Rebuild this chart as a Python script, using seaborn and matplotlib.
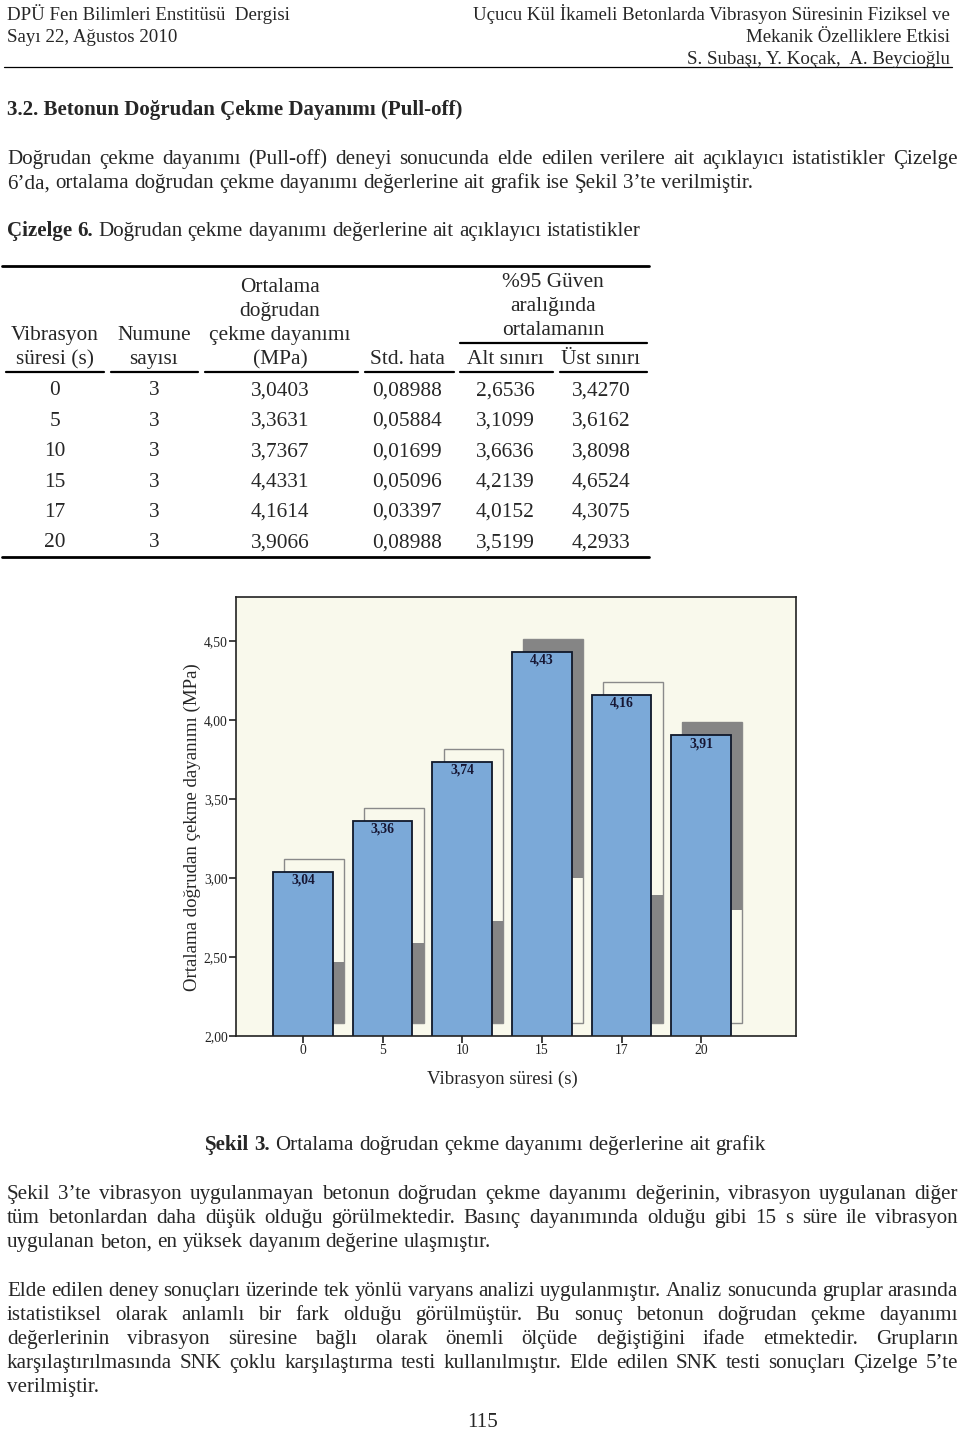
import numpy as np
import matplotlib
matplotlib.use("Agg")
import matplotlib.pyplot as plt
from matplotlib.lines import Line2D
import seaborn as sns

# table / chart data (Çizelge 6)
durations = ["0", "5", "10", "15", "17", "20"]
sample_n = [3, 3, 3, 3, 3, 3]
mean_strength = [3.0403, 3.3631, 3.7367, 4.4331, 4.1614, 3.9066]
std_err = [0.08988, 0.05884, 0.01699, 0.05096, 0.03397, 0.08988]
ci_lower = [2.6536, 3.1099, 3.6636, 4.2139, 4.0152, 3.5199]
ci_upper = [3.4270, 3.6162, 3.8098, 4.6524, 4.3075, 4.2933]

# grey band inside each 3D shadow
shade_lo = [2.08, 2.08, 2.08, 3.00, 2.08, 2.80]
shade_hi = [2.47, 2.59, 2.73, 4.51, 2.89, 3.99]

W, H = 960, 1436
BAR_BLUE = "#7BA9D8"
CREAM = "#F9F9EC"
SHADE = "#858585"

sns.set_style("ticks")
plt.rcParams["font.family"] = ["Liberation Serif", "DejaVu Serif"]

fig = plt.figure(figsize=(W / 100, H / 100), dpi=100)
renderer = fig.canvas.get_renderer()

BODY = 15.1
TABLE = 15.4
HEAD = 13.6


def fx(x):
    return x / W


def fy(y):
    return 1 - y / H


def hline(x0, x1, y, lw=1.0):
    fig.add_artist(Line2D([fx(x0), fx(x1)], [fy(y), fy(y)],
                          transform=fig.transFigure, color="black", lw=lw))


def put(x, y, s, size=BODY, ha="left", weight="normal"):
    # y is the visual middle of the line; shift down to the baseline
    base = y + 0.30 * size * 100 / 72
    return fig.text(fx(x), fy(base), s, fontsize=size, ha=ha, va="baseline",
                    fontweight=weight)


def line(words, y, x0=7, x1=958, justify=True, n_bold=0, size=BODY):
    """place words one by one, spread between x0 and x1 when justified"""
    texts = [put(0, y, w, size=size, weight="bold" if i < n_bold else "normal")
             for i, w in enumerate(words)]
    widths = [t.get_window_extent(renderer).width for t in texts]
    probe = put(0, y, "a a", size=size)
    probe2 = put(0, y, "aa", size=size)
    space = probe.get_window_extent(renderer).width - probe2.get_window_extent(renderer).width
    probe.remove()
    probe2.remove()
    gap = (x1 - x0 - sum(widths)) / (len(words) - 1) if justify else space
    x = x0
    for t, w in zip(texts, widths):
        t.set_x(fx(x))
        x += w + gap


# page header
put(7, 14, "DPÜ Fen Bilimleri Enstitüsü  Dergisi", size=HEAD)
put(7, 36, "Sayı 22, Ağustos 2010", size=HEAD)
put(950, 14, "Uçucu Kül İkameli Betonlarda Vibrasyon Süresinin Fiziksel ve", size=HEAD, ha="right")
put(950, 36, "Mekanik Özelliklere Etkisi", size=HEAD, ha="right")
put(950, 58, "S. Subaşı, Y. Koçak,  A. Beycioğlu", size=HEAD, ha="right")
hline(4, 952, 67, lw=0.9)

put(7, 109, "3.2. Betonun Doğrudan Çekme Dayanımı (Pull-off)", weight="bold")

line("Doğrudan çekme dayanımı (Pull-off) deneyi sonucunda elde edilen verilere ait açıklayıcı istatistikler Çizelge".split(), 158)
line("6’da, ortalama doğrudan çekme dayanımı değerlerine ait grafik ise Şekil 3’te verilmiştir.".split(), 182, justify=False)
line("Çizelge 6. Doğrudan çekme dayanımı değerlerine ait açıklayıcı istatistikler".split(), 230,
     justify=False, n_bold=2)

# table
col_x = [55, 154, 280, 407, 505, 601]
hline(2, 649, 266, lw=2.0)
head = [
    (0, ["Vibrasyon", "süresi (s)"], [334, 358]),
    (1, ["Numune", "sayısı"], [334, 358]),
    (2, ["Ortalama", "doğrudan", "çekme dayanımı", "(MPa)"], [286, 310, 334, 358]),
    (3, ["Std. hata"], [358]),
    (4, ["Alt sınırı"], [358]),
    (5, ["Üst sınırı"], [358]),
]
for c, rows, ys in head:
    for s, y in zip(rows, ys):
        put(col_x[c], y, s, size=TABLE, ha="center")
for s, y in zip(["%95 Güven", "aralığında", "ortalamanın"], [281, 305, 329]):
    put(553, y, s, size=TABLE, ha="center")
hline(460, 647, 343, lw=1.6)
for a, b in [(6, 104), (111, 198), (205, 358), (365, 454), (460, 553), (560, 647)]:
    hline(a, b, 372, lw=1.6)

for i in range(len(durations)):
    y = 389 + i * 30.4
    cells = [durations[i], str(sample_n[i]),
             f"{mean_strength[i]:.4f}".replace(".", ","),
             f"{std_err[i]:.5f}".replace(".", ","),
             f"{ci_lower[i]:.4f}".replace(".", ","),
             f"{ci_upper[i]:.4f}".replace(".", ",")]
    for c, s in enumerate(cells):
        put(col_x[c], y, s, size=TABLE, ha="center")
hline(2, 649, 557, lw=2.0)

# chart
ax = fig.add_axes([fx(236), fy(1036), (796 - 236) / W, (1036 - 597) / H])
ax.set_facecolor(CREAM)
pos = np.arange(len(durations))

# 3D shadow behind each bar
ax.bar(pos + 0.14, np.array(mean_strength) - 2.0, bottom=2.08, width=0.75,
       facecolor=CREAM, edgecolor="#8a8a8a", linewidth=1.0, zorder=0.5)
ax.bar(pos + 0.14, np.array(shade_hi) - np.array(shade_lo), bottom=shade_lo,
       width=0.75, color=SHADE, linewidth=0, zorder=0.6)

sns.barplot(x=durations, y=mean_strength, order=durations, color=BAR_BLUE,
            saturation=1, width=0.75, edgecolor="#10182a", linewidth=1.3, ax=ax)

for i, m in enumerate(mean_strength):
    ax.text(i, m - 0.055, f"{m:.2f}".replace(".", ","), ha="center", va="center",
            fontsize=9.8, fontweight="bold", color="#161633")

ax.set_ylim(2.0, 4.78)
ax.set_xlim(-0.84, 6.19)
yt = [2.0, 2.5, 3.0, 3.5, 4.0, 4.5]
ax.set_yticks(yt)
ax.set_yticklabels([f"{v:.2f}".replace(".", ",") for v in yt])
ax.tick_params(direction="out", length=5, width=1.2, labelsize=9.8, pad=1,
               colors="#222222")
for sp in ax.spines.values():
    sp.set_color("#222222")
    sp.set_linewidth(1.2)
ax.set_xlabel("")
ax.set_ylabel("")
put(502, 1078, "Vibrasyon süresi (s)", size=13.6, ha="center")
fig.text(fx(192), fy(827), "Ortalama doğrudan çekme dayanımı (MPa)", fontsize=13.6,
         rotation=90, ha="center", va="center")

# caption
line("Şekil 3. Ortalama doğrudan çekme dayanımı değerlerine ait grafik".split(), 1144,
     x0=205, justify=False, n_bold=2)

line("Şekil 3’te vibrasyon uygulanmayan betonun doğrudan çekme dayanımı değerinin, vibrasyon uygulanan diğer".split(), 1193)
line("tüm betonlardan daha düşük olduğu görülmektedir. Basınç dayanımında olduğu gibi 15 s süre ile vibrasyon".split(), 1217)
line("uygulanan beton, en yüksek dayanım değerine ulaşmıştır.".split(), 1241, justify=False)

line("Elde edilen deney sonuçları üzerinde tek yönlü varyans analizi uygulanmıştır. Analiz sonucunda gruplar arasında".split(), 1290)
line("istatistiksel olarak anlamlı bir fark olduğu görülmüştür. Bu sonuç betonun doğrudan çekme dayanımı".split(), 1314)
line("değerlerinin vibrasyon süresine bağlı olarak önemli ölçüde değiştiğini ifade etmektedir. Grupların".split(), 1338)
line("karşılaştırılmasında SNK çoklu karşılaştırma testi kullanılmıştır. Elde edilen SNK testi sonuçları Çizelge 5’te".split(), 1362)
line(["verilmiştir."], 1386, justify=False)

put(483, 1421, "115", ha="center")

fig.savefig("out.png", dpi=100, facecolor="white")
